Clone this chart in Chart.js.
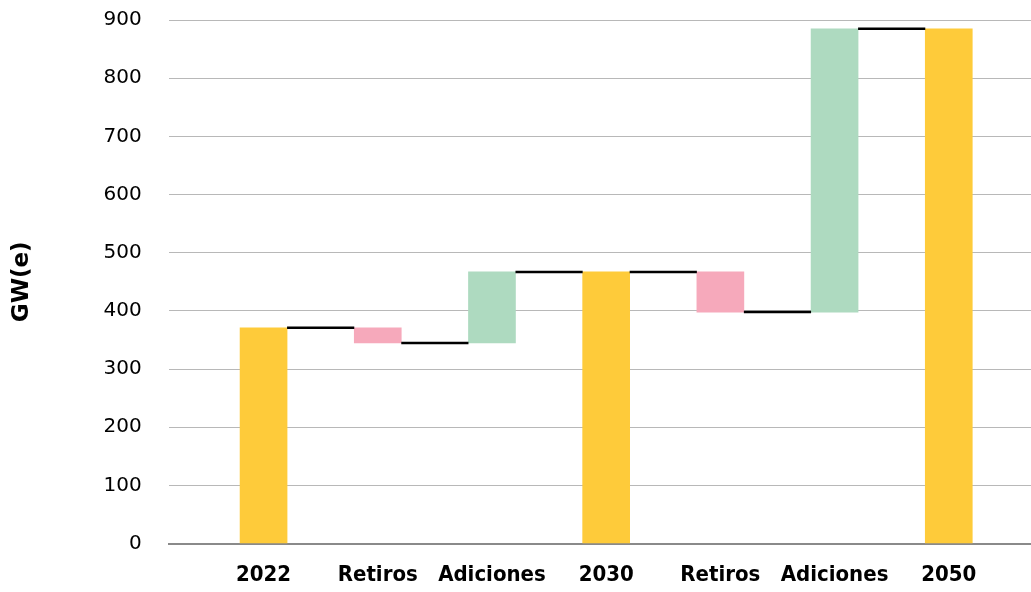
<!DOCTYPE html>
<html lang="es">
<head>
<meta charset="utf-8">
<title>Capacidad instalada GW(e)</title>
<script src="https://cdn.jsdelivr.net/npm/chart.js@4.4.1/dist/chart.umd.min.js"></script>
<style>
  html, body { margin: 0; padding: 0; background: #fff; }
  #wrap { width: 1031px; height: 592px; position: relative; }
</style>
</head>
<body>
<div id="wrap"><canvas id="grafico"></canvas></div>
<script>
// Datos de la cascada: totales por año y variaciones intermedias
const periodos = ['2022', 'Retiros', 'Adiciones', '2030', 'Retiros', 'Adiciones', '2050'];
const tipos = ['total', 'retiro', 'adicion', 'total', 'retiro', 'adicion', 'total'];
const valores = [371, -26, 122, 467, -69, 487, 885];
const ticksY = [0, 100, 200, 300, 400, 500, 600, 700, 800, 900];

const colores = { total: '#FECB3A', retiro: '#F6A9BB', adicion: '#AEDAC0' };

// Rangos flotantes de cada barra y nivel acumulado tras cada paso
const rangos = [];
const niveles = [];
let acumulado = 0;
valores.forEach((v, i) => {
    if (tipos[i] === 'total') {
        rangos.push([0, v]);
        acumulado = v;
    } else {
        rangos.push([acumulado, acumulado + v]);
        acumulado += v;
    }
    niveles.push(acumulado);
});

// Líneas negras que unen cada barra con la siguiente
const conectores = {
    id: 'conectores',
    afterDatasetsDraw(chart) {
        const ctx = chart.ctx;
        const barras = chart.getDatasetMeta(0).data;
        const y = chart.scales.y;
        ctx.save();
        ctx.strokeStyle = '#000';
        ctx.lineWidth = 2.5;
        for (let i = 0; i < barras.length - 1; i++) {
            const a = barras[i], b = barras[i + 1];
            const py = y.getPixelForValue(niveles[i]);
            ctx.beginPath();
            ctx.moveTo(a.x + a.width / 2, py);
            ctx.lineTo(b.x - b.width / 2, py);
            ctx.stroke();
        }
        ctx.restore();
    }
};

new Chart(document.getElementById('grafico'), {
    type: 'bar',
    data: {
        datasets: [{
            data: rangos.map((r, i) => ({ x: i, y: r })),
            backgroundColor: tipos.map(t => colores[t]),
            borderWidth: 0,
            barThickness: 47
        }]
    },
    options: {
        responsive: true,
        maintainAspectRatio: false,
        animation: false,
        layout: { padding: { top: 20, right: 0, bottom: -14, left: 0 } },
        plugins: {
            legend: { display: false },
            tooltip: { enabled: false }
        },
        scales: {
            x: {
                type: 'linear',
                offset: false,
                min: -0.83,
                max: 6.72,
                grid: { display: false, drawTicks: false },
                border: { display: true, color: '#8a8a8a', width: 2 },
                afterBuildTicks: axis => {
                    axis.ticks = periodos.map((_, i) => ({ value: i }));
                },
                ticks: {
                    autoSkip: false,
                    maxRotation: 0,
                    padding: 18,
                    color: '#000',
                    font: { family: 'DejaVu Sans Condensed', size: 22, weight: 'bold' },
                    callback: v => periodos[v]
                }
            },
            y: {
                min: 0,
                max: 900,
                afterBuildTicks: axis => {
                    axis.ticks = ticksY.map(v => ({ value: v }));
                },
                afterFit: axis => {
                    axis.paddingTop = 0;
                },
                grid: { color: '#b8b8b8', lineWidth: 1, drawTicks: false },
                border: { display: false },
                ticks: {
                    padding: 27,
                    color: '#000',
                    font: { family: 'DejaVu Sans', size: 20 }
                },
                title: {
                    display: true,
                    text: 'GW(e)',
                    color: '#000',
                    font: { family: 'DejaVu Sans', size: 23, weight: 'bold' },
                    padding: { top: 8, bottom: 41 }
                }
            }
        }
    },
    plugins: [conectores]
});
</script>
</body>
</html>
